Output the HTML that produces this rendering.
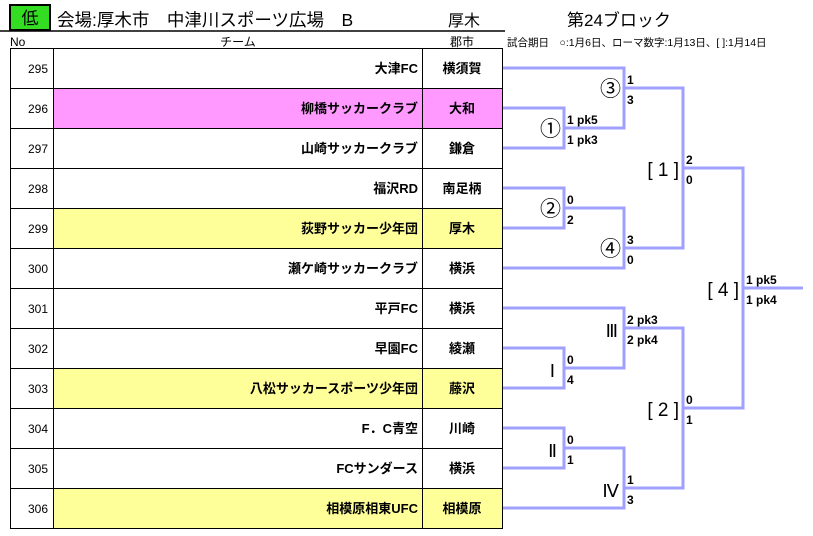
<html><head><style>body{margin:0;background:#fff}</style></head><body>
<svg width="813" height="536" xmlns="http://www.w3.org/2000/svg" font-family="'Liberation Sans','Noto Sans CJK JP',sans-serif">
<rect x="0" y="0" width="813" height="536" fill="#fff"/>
<rect x="10" y="5" width="40" height="25" fill="#33dd22" stroke="#000" stroke-width="2"/>
<text x="30" y="24" font-size="17" text-anchor="middle">低</text>
<text x="57" y="26" font-size="17.5">会場:厚木市　中津川スポーツ広場　B</text>
<text x="448" y="26" font-size="16">厚木</text>
<line x1="0" y1="31" x2="505" y2="31" stroke="#000" stroke-width="1.5"/>
<text x="567" y="26" font-size="17">第24ブロック</text>
<text x="10" y="46" font-size="12">No</text>
<text x="238" y="46" font-size="12" text-anchor="middle">チーム</text>
<text x="462" y="46" font-size="12" text-anchor="middle">郡市</text>
<text x="507" y="46" font-size="10.5">試合期日　○:1月6日、ローマ数字:1月13日、[ ]:1月14日</text>
<g>
<rect x="53" y="88" width="369" height="40" fill="#ff99ff"/>
<rect x="53" y="208" width="369" height="40" fill="#ffff99"/>
<rect x="422" y="208" width="81" height="40" fill="#ffff99"/>
<rect x="53" y="368" width="369" height="40" fill="#ffff99"/>
<rect x="422" y="368" width="81" height="40" fill="#ffff99"/>
<rect x="53" y="488" width="369" height="40" fill="#ffff99"/>
<rect x="422" y="488" width="81" height="40" fill="#ffff99"/>
<rect x="422" y="88" width="81" height="40" fill="#ff99ff"/>
</g>
<g stroke="#000" stroke-width="1" fill="none">
<rect x="10.5" y="48.5" width="492" height="480"/>
<line x1="53.5" y1="48" x2="53.5" y2="528"/>
<line x1="422.5" y1="48" x2="422.5" y2="528"/>
<path d="M10 88.5H503M10 128.5H503M10 168.5H503M10 208.5H503M10 248.5H503M10 288.5H503M10 328.5H503M10 368.5H503M10 408.5H503M10 448.5H503M10 488.5H503"/>
</g>
<g font-size="12" text-anchor="middle">
<text x="38" y="73">295</text><text x="38" y="113">296</text><text x="38" y="153">297</text><text x="38" y="193">298</text><text x="38" y="233">299</text><text x="38" y="273">300</text><text x="38" y="313">301</text><text x="38" y="353">302</text><text x="38" y="393">303</text><text x="38" y="433">304</text><text x="38" y="473">305</text><text x="38" y="513">306</text>
</g>
<g font-size="13" font-weight="bold" text-anchor="end">
<text x="418" y="73">大津FC</text><text x="418" y="113">柳橋サッカークラブ</text><text x="418" y="153">山崎サッカークラブ</text><text x="418" y="193">福沢RD</text><text x="418" y="233">荻野サッカー少年団</text><text x="418" y="273">瀬ケ崎サッカークラブ</text><text x="418" y="313">平戸FC</text><text x="418" y="353">早園FC</text><text x="418" y="393">八松サッカースポーツ少年団</text><text x="418" y="433">F．C青空</text><text x="418" y="473">FCサンダース</text><text x="418" y="513">相模原相東UFC</text>
</g>
<g font-size="13" font-weight="bold" text-anchor="middle">
<text x="462" y="73">横須賀</text><text x="462" y="113">大和</text><text x="462" y="153">鎌倉</text><text x="462" y="193">南足柄</text><text x="462" y="233">厚木</text><text x="462" y="273">横浜</text><text x="462" y="313">横浜</text><text x="462" y="353">綾瀬</text><text x="462" y="393">藤沢</text><text x="462" y="433">川崎</text><text x="462" y="473">横浜</text><text x="462" y="513">相模原</text>
</g>
<g stroke="#a0a0ff" stroke-width="3" fill="none">
<path d="M503 68H624V128H564"/><path d="M503 108H564V148H503"/><path d="M624 88H683V248H624"/><path d="M503 188H564V228H503"/><path d="M564 208H624V268H503"/><path d="M683 168H743V408H683"/><path d="M743 288H803"/>
<path d="M503 308H624V368H564"/><path d="M503 348H564V388H503"/><path d="M624 328H683V488H624"/><path d="M503 428H564V468H503"/><path d="M564 448H624V508H503"/>
</g>
<g text-anchor="end">
<text x="621" y="96" font-size="21">③</text><text x="561" y="136" font-size="21">①</text><text x="561" y="216" font-size="21">②</text><text x="621" y="256" font-size="21">④</text>
<text x="679" y="176" font-size="19" xml:space="preserve">[ 1 ]</text><text x="679" y="416" font-size="19" xml:space="preserve">[ 2 ]</text><text x="739" y="296" font-size="19" xml:space="preserve">[ 4 ]</text>
<text x="618" y="337" font-size="18" font-family="'Liberation Serif',serif">Ⅲ</text><text x="555" y="377" font-size="18" font-family="'Liberation Serif',serif">Ⅰ</text><text x="557" y="457" font-size="18" font-family="'Liberation Serif',serif">Ⅱ</text><text x="619" y="497" font-size="18" font-family="'Liberation Serif',serif">Ⅳ</text>
</g>
<g font-size="12" font-weight="bold">
<text x="627" y="84">1</text><text x="627" y="104">3</text>
<text x="567" y="124">1 pk5</text><text x="567" y="144">1 pk3</text>
<text x="567" y="204">0</text><text x="567" y="224">2</text>
<text x="627" y="244">3</text><text x="627" y="264">0</text>
<text x="686" y="164">2</text><text x="686" y="184">0</text>
<text x="746" y="284">1 pk5</text><text x="746" y="304">1 pk4</text>
<text x="627" y="324">2 pk3</text><text x="627" y="344">2 pk4</text>
<text x="567" y="364">0</text><text x="567" y="384">4</text>
<text x="686" y="404">0</text><text x="686" y="424">1</text>
<text x="567" y="444">0</text><text x="567" y="464">1</text>
<text x="627" y="484">1</text><text x="627" y="504">3</text>
</g>
</svg>
</body></html>
